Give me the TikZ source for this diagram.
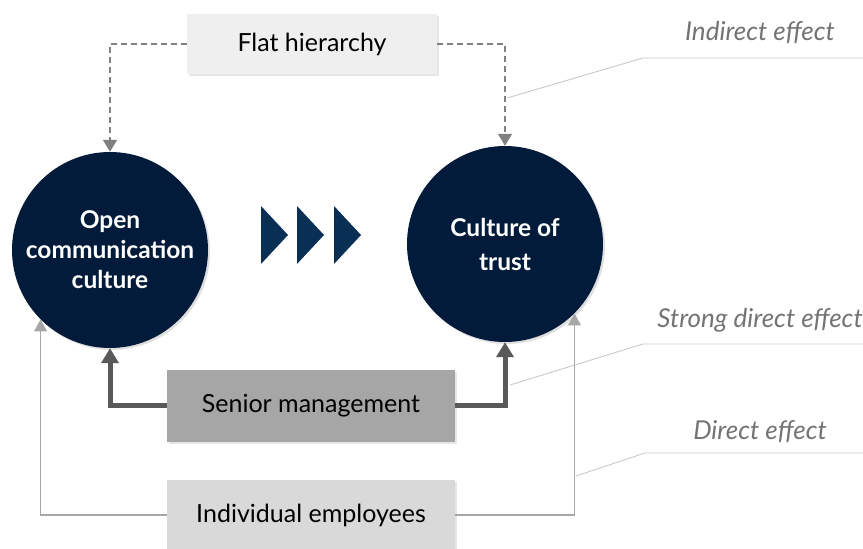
\documentclass[tikz,border=0pt]{standalone}
\usepackage{fontspec}
\setmainfont{Lato}
\usepackage{tikz}
\usetikzlibrary{arrows.meta,shadows}

\definecolor{navy}{RGB}{3,27,58}
\definecolor{chevron}{RGB}{10,47,85}
\definecolor{flatgray}{RGB}{239,239,239}
\definecolor{seniorgray}{RGB}{166,166,166}
\definecolor{indivgray}{RGB}{217,217,217}
\definecolor{dashgray}{RGB}{128,128,128}
\definecolor{thickgray}{RGB}{89,89,89}
\definecolor{thingray}{RGB}{166,166,166}
\definecolor{leadergray}{RGB}{200,200,200}
\definecolor{labelgray}{RGB}{115,115,115}

\tikzset{
    culture/.style={circle, fill=navy, text=white, inner sep=0pt, minimum size=196pt,
        align=center, font=\bfseries\fontsize{24.5}{30}\selectfont,
        drop shadow={shadow xshift=2pt, shadow yshift=-2pt, opacity=0.25}},
    factor/.style={rectangle, inner sep=0pt, font=\fontsize{25}{28}\selectfont,
        drop shadow={shadow xshift=2pt, shadow yshift=-2pt, opacity=0.2}},
    effect/.style={font=\itshape\fontsize{26}{28}\selectfont, text=labelgray},
    indirect/.style={draw=dashgray, line width=1.5pt, dash pattern=on 6pt off 4pt,
        -{Triangle[width=14pt,length=12pt]}},
    strong/.style={draw=thickgray, line width=5pt,
        -{Triangle[width=17pt,length=15pt]}},
    direct/.style={draw=thingray, line width=1.3pt,
        -{Triangle[width=13pt,length=12pt]}},
    leader/.style={draw=leadergray, line width=0.9pt}
}

\begin{document}
\begin{tikzpicture}[x=1pt, y=-1pt]
    \useasboundingbox (0,0) rectangle (863,549);

    % circles
    \node[culture] (open) at (110,250) {Open\\communication\\culture};
    \node[culture, font=\bfseries\fontsize{24.5}{34}\selectfont] (trust) at (505,244) {Culture of\\trust};

    % chevrons
    \foreach \x in {261,297,334}
        \fill[chevron] (\x,206) -- (\x+27,235) -- (\x,264) -- cycle;

    % factors
    \node[factor, fill=flatgray, minimum width=250pt, minimum height=60pt] (flat) at (312,44) {Flat hierarchy};
    \node[factor, fill=seniorgray, minimum width=288pt, minimum height=72pt] (senior) at (311,405.5) {Senior management};
    \node[factor, fill=indivgray, minimum width=288pt, minimum height=70pt] (indiv) at (311,515) {Individual employees};

    % effects
    \draw[indirect] (flat.west) -| (open.north);
    \draw[indirect] (flat.east) -| (trust.north);
    \draw[strong] (senior.west) -| (open.south);
    \draw[strong] (senior.east) -| (trust.south);
    \draw[direct] (indiv.west) -| (open.south west);
    \draw[direct] (indiv.east) -| (trust.south east);

    % labels
    \node[effect] (lindirect) at (760,33) {Indirect effect};
    \node[effect] (lstrong) at (760,320) {Strong direct effect};
    \node[effect] (ldirect) at (760,432) {Direct effect};

    \coordinate (a1) at (507,98);
    \coordinate (a2) at (510,385);
    \coordinate (a3) at (576,476);
    \draw[leader] (a1) -- (643,58) -- (863,58);
    \draw[leader] (a2) -- (643,344) -- (863,344);
    \draw[leader] (a3) -- (645,453) -- (863,453);
\end{tikzpicture}
\end{document}
